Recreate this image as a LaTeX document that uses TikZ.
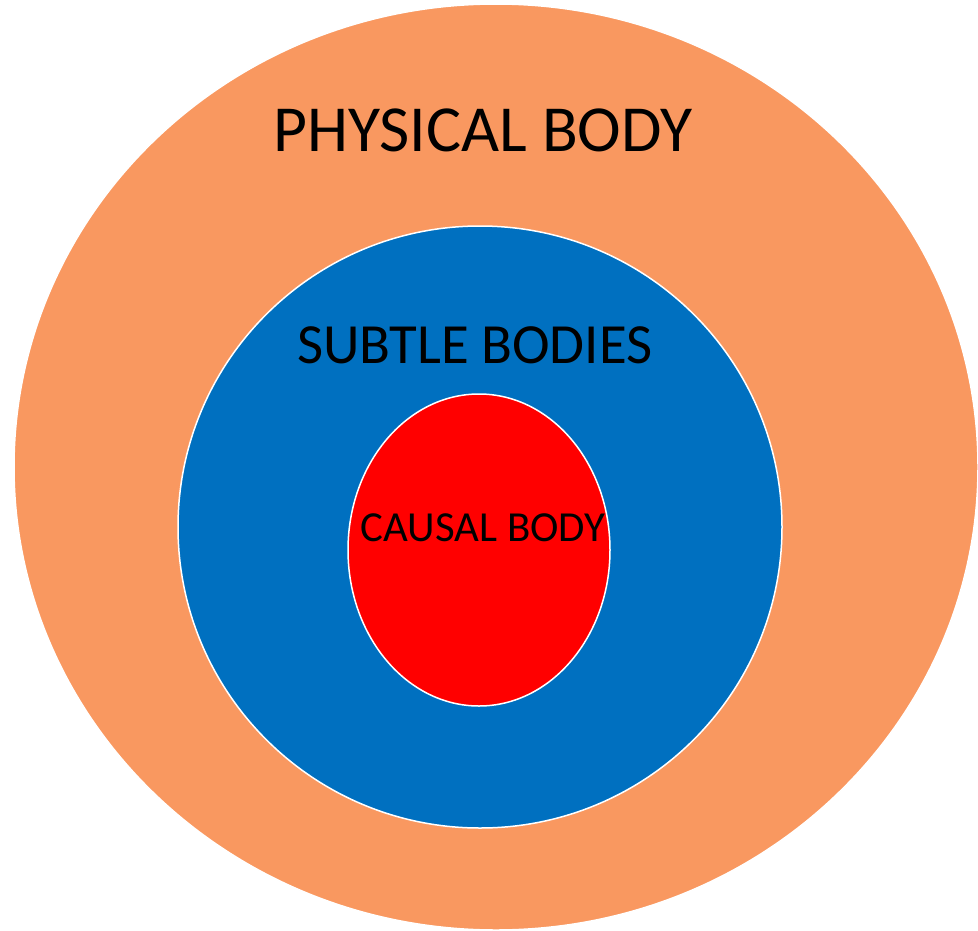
\documentclass[tikz,border=0pt]{standalone}
\usepackage{fontspec}
\setmainfont{Carlito}
\definecolor{physorange}{HTML}{F99860}
\definecolor{subtleblue}{HTML}{0070C0}
\definecolor{causalred}{HTML}{FF0000}
\begin{document}
\begin{tikzpicture}[x=1bp,y=-1bp,
  body/.style={draw=white,line width=1.5bp},
  lbl/.style={text=black,inner sep=0pt,anchor=center}]
\useasboundingbox (0,0) rectangle (978,931);
\fill[white] (0,0) rectangle (978,931);
\filldraw[body,fill=physorange] (496,467) ellipse [x radius=482, y radius=463];
\filldraw[body,fill=subtleblue] (480,527) ellipse [x radius=302, y radius=301];
\filldraw[body,fill=causalred] (479,550) ellipse [x radius=131, y radius=156];
\node[lbl,font=\fontsize{66}{80}\selectfont] (phys) at (483,130) {PHYSICAL BODY};
\node[lbl,font=\fontsize{57}{68}\selectfont] (subtle) at (475,345) {SUBTLE BODIES};
\node[lbl,font=\fontsize{43}{52}\selectfont] (causal) at (483,528) {CAUSAL BODY};
\end{tikzpicture}
\end{document}
